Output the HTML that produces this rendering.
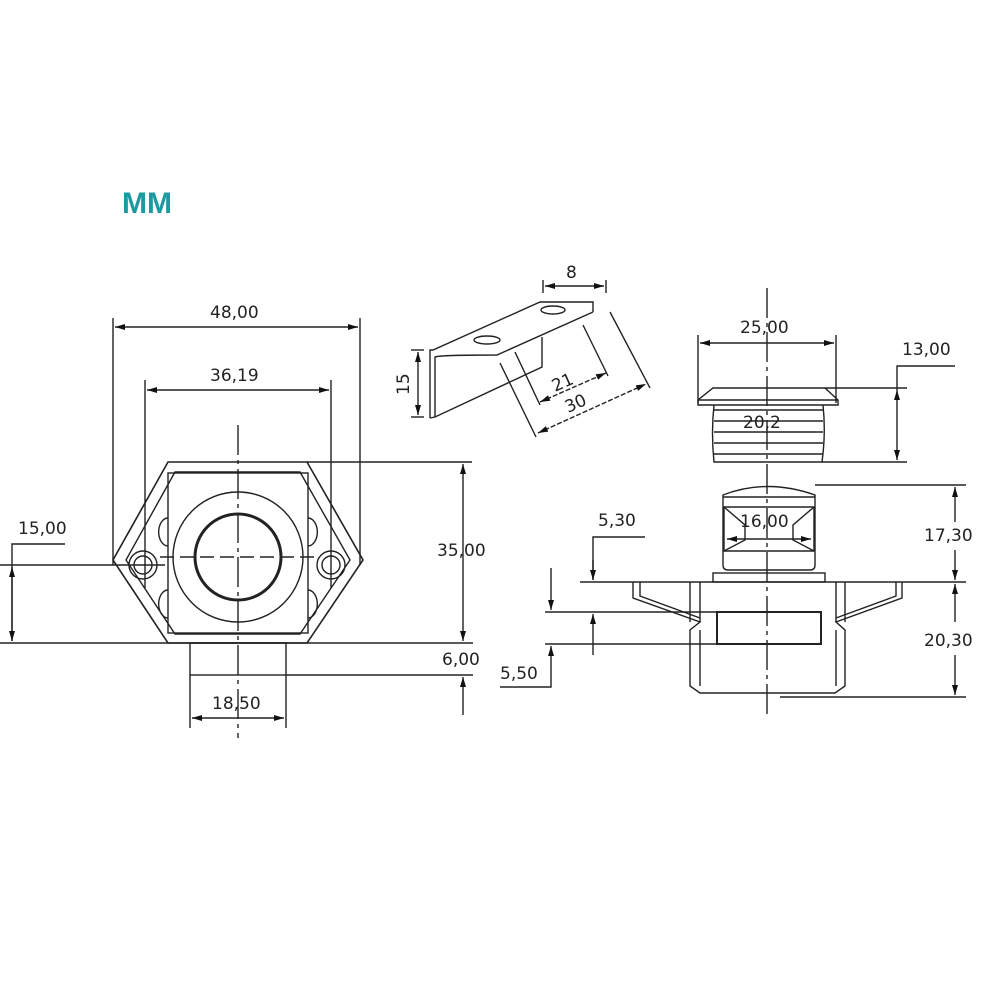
<!DOCTYPE html>
<html><head><meta charset="utf-8"><style>
html,body{margin:0;padding:0;background:#fff;}
svg{display:block}
text{font-family:"DejaVu Sans","Liberation Sans",sans-serif;font-size:17px;fill:#222;}
</style></head><body>
<svg width="1000" height="1000" viewBox="0 0 1000 1000" xmlns="http://www.w3.org/2000/svg">
<defs>
<marker id="a" viewBox="0 0 10 6" refX="10" refY="3" markerWidth="12" markerHeight="6" orient="auto-start-reverse" markerUnits="userSpaceOnUse"><path d="M0,0 L10,3 L0,6 z" fill="#111"/></marker>
</defs>
<text x="122" y="213" style="font-family:'Liberation Sans',sans-serif;font-weight:bold;font-size:30px;fill:#1b9aa2">MM</text>

<g stroke="#222" stroke-width="1.4" fill="none">
<!-- LEFT VIEW -->
<line x1="113" y1="318" x2="113" y2="565"/>
<line x1="360" y1="318" x2="360" y2="565"/>
<line x1="115" y1="327" x2="358" y2="327" marker-start="url(#a)" marker-end="url(#a)"/>
<line x1="145" y1="380" x2="145" y2="588"/>
<line x1="331" y1="380" x2="331" y2="588"/>
<line x1="147" y1="390" x2="329" y2="390" marker-start="url(#a)" marker-end="url(#a)"/>
<path d="M168,462 L307,462 L363,560 L307,643 L168,643 L113,560 Z" stroke-width="1.6"/>
<path d="M175,472 L300,472 L350,560 L300,634 L175,634 L126,560 Z"/>
<rect x="168" y="473" width="140" height="160"/>
<circle cx="238" cy="557" r="65"/>
<circle cx="238" cy="557" r="43" stroke-width="3"/>
<circle cx="143" cy="565" r="14"/><circle cx="143" cy="565" r="9"/>
<circle cx="331" cy="565" r="14"/><circle cx="331" cy="565" r="9"/>
<path d="M168,518 a8,12 0 0 0 0,28 M168,590 a8,12 0 0 0 0,28 M308,518 a8,12 0 0 1 0,28 M308,590 a8,12 0 0 1 0,28"/>
<line x1="238" y1="425" x2="238" y2="738" stroke-dasharray="30,5,4,5"/>
<line x1="160" y1="557" x2="316" y2="557" stroke-dasharray="14,6"/>
<line x1="307" y1="462" x2="472" y2="462"/>
<line x1="0" y1="643" x2="473" y2="643"/>
<line x1="463" y1="464" x2="463" y2="641" marker-start="url(#a)" marker-end="url(#a)"/>
<rect x="190" y="643" width="96" height="32"/>
<line x1="286" y1="675" x2="473" y2="675"/>
<line x1="463" y1="715" x2="463" y2="677" marker-end="url(#a)"/>
<line x1="190" y1="675" x2="190" y2="728"/>
<line x1="286" y1="675" x2="286" y2="728"/>
<line x1="192" y1="718" x2="284" y2="718" marker-start="url(#a)" marker-end="url(#a)"/>
<line x1="0" y1="565" x2="165" y2="565"/>
<polyline points="65,544 12,544 12,641"/>
<line x1="12" y1="567" x2="12" y2="641" marker-start="url(#a)" marker-end="url(#a)"/>

<!-- BRACKET -->
<polyline points="430,418 430,350 433,350 540,302 593,302 593,312"/>
<path d="M435,417 L435,357 Q440,355 497,355 L593,312"/>
<polyline points="430,418 435,417 542,367 542,337"/>
<ellipse cx="487" cy="340" rx="13" ry="4"/>
<ellipse cx="553" cy="310" rx="12" ry="4"/>
<line x1="411" y1="350" x2="424" y2="350"/><line x1="411" y1="417" x2="424" y2="417"/>
<line x1="418" y1="352" x2="418" y2="415" marker-start="url(#a)" marker-end="url(#a)"/>
<line x1="543" y1="280" x2="543" y2="293"/><line x1="606" y1="280" x2="606" y2="293"/>
<line x1="545" y1="286" x2="604" y2="286" marker-start="url(#a)" marker-end="url(#a)"/>
<line x1="515" y1="352" x2="540" y2="405"/>
<line x1="583" y1="325" x2="608" y2="376"/>
<line x1="540" y1="402" x2="606" y2="373" marker-start="url(#a)" marker-end="url(#a)" stroke-dasharray="5,2"/>
<line x1="500" y1="363" x2="536" y2="437"/>
<line x1="610" y1="312" x2="650" y2="388"/>
<line x1="538" y1="433" x2="646" y2="384" marker-start="url(#a)" marker-end="url(#a)" stroke-dasharray="5,2"/>

<!-- RIGHT VIEW -->
<line x1="767" y1="288" x2="767" y2="715" stroke-dasharray="30,5,4,5"/>
<line x1="698" y1="335" x2="698" y2="403"/>
<line x1="836" y1="335" x2="836" y2="403"/>
<line x1="700" y1="343" x2="834" y2="343" marker-start="url(#a)" marker-end="url(#a)"/>
<path d="M713,388 L825,388 L838,400 L838,405 L698,405 L698,400 Z"/>
<line x1="698" y1="400" x2="838" y2="400"/>
<path d="M714,405 Q711,433 714,462 L822,462 Q826,433 823,405"/>
<line x1="714" y1="410" x2="823" y2="410"/><line x1="714" y1="421" x2="823" y2="421"/>
<line x1="714" y1="432" x2="823" y2="432"/><line x1="714" y1="443" x2="823" y2="443"/>
<line x1="714" y1="454" x2="823" y2="454"/>
<line x1="825" y1="388" x2="907" y2="388"/>
<line x1="822" y1="462" x2="907" y2="462"/>
<polyline points="955,366 897,366 897,390"/>
<line x1="897" y1="390" x2="897" y2="460" marker-start="url(#a)" marker-end="url(#a)"/>
<path d="M723,495 Q767,478 815,495 L815,565 Q815,570 810,570 L728,570 Q723,570 723,565 Z"/>
<line x1="723" y1="497" x2="815" y2="497"/>
<path d="M724,507 L814,507 L814,551 L724,551 Z"/>
<path d="M724,507 L745,525 L745,540 L724,551 M814,507 L793,525 L793,540 L814,551"/>
<line x1="745" y1="539" x2="793" y2="539"/>
<line x1="727" y1="539" x2="745" y2="539" marker-end="url(#a)" transform="rotate(180 736 539)"/>
<line x1="811" y1="539" x2="793" y2="539" marker-end="url(#a)" transform="rotate(180 802 539)"/>
<rect x="713" y="573" width="112" height="9"/>
<line x1="580" y1="582" x2="966" y2="582"/>
<line x1="815" y1="485" x2="966" y2="485"/>
<line x1="780" y1="697" x2="966" y2="697"/>
<line x1="955" y1="487" x2="955" y2="522" marker-start="url(#a)"/>
<line x1="955" y1="550" x2="955" y2="580" marker-end="url(#a)"/>
<line x1="955" y1="584" x2="955" y2="622" marker-start="url(#a)"/>
<line x1="955" y1="655" x2="955" y2="695" marker-end="url(#a)"/>
<path d="M633,582 L633,598 L700,622 L690,630 L690,686 L700,693 L835,693 L845,686 L845,630 L836,622 L902,598 L902,582"/>
<path d="M640,582 L640,596 L700,618 M896,582 L896,596 L836,618"/>
<line x1="690" y1="582" x2="690" y2="622"/><line x1="700" y1="582" x2="700" y2="622"/>
<line x1="845" y1="582" x2="845" y2="622"/><line x1="836" y1="582" x2="836" y2="622"/>
<line x1="700" y1="630" x2="700" y2="686"/><line x1="836" y1="630" x2="836" y2="686"/>
<rect x="717" y="612" width="104" height="32" stroke-width="2"/>
<line x1="545" y1="612" x2="717" y2="612"/>
<line x1="545" y1="644" x2="717" y2="644"/>
<polyline points="645,537 593,537 593,580"/>
<line x1="593" y1="560" x2="593" y2="580" marker-end="url(#a)"/>
<line x1="593" y1="655" x2="593" y2="614" marker-end="url(#a)"/>
<line x1="551" y1="568" x2="551" y2="610" marker-end="url(#a)"/>
<polyline points="500,687 551,687 551,646" marker-end="url(#a)"/>
</g>

<text x="210" y="318">48,00</text>
<text x="210" y="381">36,19</text>
<text x="437" y="556">35,00</text>
<text x="442" y="665">6,00</text>
<text x="212" y="709">18,50</text>
<text x="18" y="534">15,00</text>
<text x="566" y="278">8</text>
<text x="0" y="0" transform="translate(409,395) rotate(-90)">15</text>
<text x="0" y="0" transform="translate(555,392) rotate(-24)">21</text>
<text x="0" y="0" transform="translate(568,413) rotate(-24)">30</text>
<text x="740" y="333">25,00</text>
<text x="902" y="355">13,00</text>
<text x="743" y="428">20,2</text>
<text x="740" y="527">16,00</text>
<text x="598" y="526">5,30</text>
<text x="500" y="679">5,50</text>
<text x="924" y="541">17,30</text>
<text x="924" y="646">20,30</text>
</svg>
</body></html>
